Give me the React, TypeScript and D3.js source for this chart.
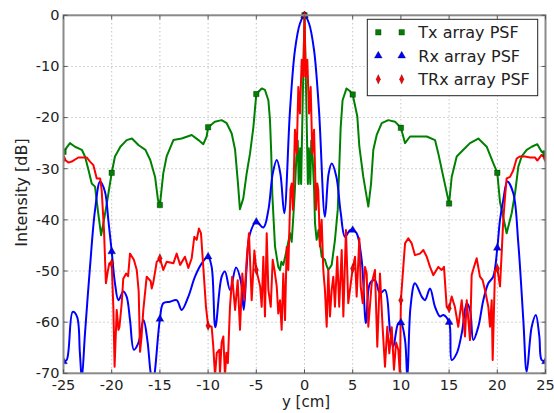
import * as d3 from "d3";

const W = 554;
const H = 413;
const M = { left: 63.5, right: 545.5, top: 15.3, bottom: 373.3 };

const xTicks = [-25, -20, -15, -10, -5, 0, 5, 10, 15, 20, 25];
const yTicks = [0, -10, -20, -30, -40, -50, -60, -70];

// [y (cm), intensity (dB)]
const txPsf: [number, number][] = [
  [-25, -26.7], [-24.33, -25], [-23.8, -25.7], [-23.1, -26.3], [-22.77, -27.6],
  [-22.4, -30.3], [-22.07, -32.9], [-21.73, -33.5], [-21.4, -38.7], [-21.1, -43],
  [-20.8, -40], [-20.5, -36.7], [-20, -30.8], [-19.66, -27.6], [-19.1, -25.7],
  [-18.45, -24.4], [-17.9, -24.1], [-17.2, -25.4], [-16.5, -26.3], [-16, -28.3],
  [-15.5, -31.6], [-15.2, -36.1], [-15, -37.1], [-14.65, -30.9], [-14.3, -27.6],
  [-13.6, -24.4], [-12.74, -24.1], [-11.7, -23.4], [-11, -24.4], [-10.5, -25.2],
  [-10.15, -23.7], [-10, -21.9], [-9.3, -20.8], [-8.6, -20.5], [-8.07, -21.1],
  [-7.55, -23.1], [-7.2, -26.3], [-6.9, -32.9], [-6.7, -37.9], [-6.35, -35.8],
  [-6, -30.9], [-5.65, -27], [-5.3, -21.8], [-5, -15.4], [-4.44, -14.3],
  [-4.1, -14.6], [-3.75, -16.6], [-3.58, -20.5], [-3.45, -27], [-3.34, -35],
  [-3.06, -45.2], [-2.72, -49.2], [-2.54, -49.8], [-2.4, -48.2], [-2.2, -48.8],
  [-1.85, -45.9], [-1.5, -42.6], [-1.33, -44.3], [-1.16, -39.4], [-1, -34.2],
  [-0.85, -28], [-0.7, -24.5], [-0.6, -33], [-0.45, -26], [-0.35, -33],
  [-0.2, -18], [0, 0], [0.2, -18], [0.35, -33], [0.45, -26], [0.6, -33],
  [0.7, -24.5], [0.85, -28], [1, -34.2], [1.09, -40.7], [1.26, -43.9],
  [1.45, -42], [1.78, -47.2], [2.12, -47.8], [2.3, -49], [2.47, -49.8],
  [2.82, -48.8], [3.16, -43.9], [3.45, -38], [3.6, -30], [3.75, -22],
  [3.95, -16.6], [4.36, -14.3], [4.7, -14.8], [5, -15.5], [5.48, -19.8],
  [5.69, -25.7], [6.1, -31.6], [6.62, -37.4], [6.9, -33], [7.14, -26.3],
  [7.49, -23.4], [8.01, -21.1], [8.69, -20.5], [9.39, -20.8], [10, -22],
  [10.43, -25], [10.95, -23.7], [11.64, -23.7], [12.68, -23.7], [13.54, -24.4],
  [13.88, -27], [14.4, -31.6], [15, -36.8], [15.27, -31.6], [15.79, -27.6],
  [16.48, -26.3], [17.17, -25], [18.03, -24.1], [18.9, -25.7], [19.58, -28.9],
  [20, -30.8], [20.28, -36.5], [20.97, -42.6], [21.49, -38.7], [21.84, -34.8],
  [22.18, -29.6], [22.53, -27.6], [23.05, -26.3], [23.57, -25.7], [24.15, -25.2],
  [24.6, -26.7], [25, -27],
];

const rxPsf: [number, number][] = [
  [-25, -67.7], [-24.67, -67.4], [-24.05, -58], [-23.6, -58.9], [-23.3, -66],
  [-23.1, -71], [-22.77, -62.2], [-22.25, -49.2], [-21.73, -38.1], [-21.2, -32.5],
  [-20.7, -34.5], [-20.35, -40], [-20, -46.2], [-19.66, -52.4], [-19.3, -55.7],
  [-18.8, -54], [-18.45, -55], [-18.1, -59.6], [-17.7, -65.4], [-17.24, -64.1],
  [-16.7, -59.6], [-16.3, -63.5], [-15.95, -70], [-15.7, -72], [-15.5, -69.3],
  [-15, -59.4], [-14.65, -56.3], [-13.95, -56], [-13.26, -55.7], [-12.74, -57.6],
  [-12.05, -55], [-11.36, -51.1], [-10.66, -48.5], [-10, -47.2], [-9.63, -49.2],
  [-9.25, -61], [-8.59, -51.1], [-8.25, -50.1], [-7.73, -53.7], [-7.1, -49.3],
  [-6.6, -52], [-6.3, -57.6], [-6, -49.2], [-5.7, -43], [-5, -40.4],
  [-4.27, -41.5], [-3.75, -38.1], [-3.3, -31], [-2.88, -28.3], [-2.5, -31],
  [-2.1, -38.7], [-1.5, -18.5], [-0.99, -6.8], [-0.47, -1.6], [0, 0],
  [0.47, -1.6], [0.99, -6.8], [1.5, -18.5], [2.12, -39.4], [2.5, -31],
  [2.82, -29], [3.3, -31.5], [3.75, -38.5], [4.2, -43.3], [4.72, -42],
  [5, -42], [5.41, -42.6], [5.93, -47.8], [6.38, -60.2], [6.8, -52.4],
  [7.31, -51.8], [7.83, -54.4], [8.35, -53.7], [8.87, -61.5], [9.21, -64.8],
  [9.73, -60.2], [10, -60.1], [10.43, -63.5], [10.67, -71], [11, -57],
  [11.46, -52.4], [12.16, -55], [12.5, -55.7], [13.02, -53.4], [13.54, -57],
  [14.06, -58.9], [14.4, -58.6], [15, -60], [15.27, -67.4], [15.79, -66.1],
  [16.31, -62.2], [16.83, -56.3], [17.17, -57.6], [17.51, -63.5], [18.03, -60.9],
  [18.55, -55.7], [19.07, -52.4], [19.58, -51.1], [20, -45.5], [20.28, -40],
  [20.62, -36.1], [21.04, -32.5], [21.66, -34.8], [22.18, -44.6], [22.7, -59.6],
  [23.05, -69.7], [23.57, -60.9], [24, -58.6], [24.36, -62.8], [24.6, -67.4],
  [25, -67.7],
];

const trxPsf: [number, number][] = [
  [-25, -28], [-24.5, -28.8], [-24.15, -28.6], [-23.46, -27.8], [-22.6, -27.8],
  [-22.25, -28.6], [-21.9, -29.3], [-21.55, -31.9], [-21.2, -31.9], [-21.04, -34.2],
  [-20.8, -42], [-20.6, -52.4], [-20.4, -50], [-20.25, -48.5], [-20, -48.5],
  [-19.83, -57], [-19.7, -68.7], [-19.48, -57.6], [-19.3, -61.5], [-19.2, -61],
  [-18.96, -56.3], [-18.8, -51.5], [-18.5, -50.5], [-18.3, -51], [-18.1, -46.6],
  [-17.7, -47.8], [-17.4, -49.8], [-17.2, -54], [-17.06, -65.8], [-16.9, -62.8],
  [-16.72, -57.6], [-16.37, -51.1], [-15.95, -52], [-15.85, -53.4], [-15.7, -52.4],
  [-15.33, -48.2], [-15, -47.5], [-14.65, -49.8], [-14.3, -48.2], [-13.6, -48.5],
  [-13.26, -46.6], [-12.9, -48.8], [-12.4, -47.2], [-12.05, -49.4], [-11.7, -47.5],
  [-11.43, -43.3], [-11.18, -43.9], [-10.95, -41.7], [-10.74, -42.6], [-10.5, -49.2],
  [-10.22, -57], [-10, -60.7], [-9.63, -60.9], [-9.46, -64.8], [-9.28, -70.5],
  [-9.1, -66], [-8.84, -65.4], [-8.77, -70], [-8.6, -64], [-8.42, -62.8],
  [-8.25, -70.5], [-8.1, -66], [-7.95, -68], [-7.73, -57], [-7.5, -51.1],
  [-7.2, -57.6], [-6.93, -51.8], [-6.69, -61.5], [-6.45, -50.5], [-6.24, -55.7],
  [-6, -47.8], [-5.76, -42.6], [-5.48, -55.7], [-5.2, -46], [-5, -49.8],
  [-4.6, -53], [-4.44, -57], [-4.27, -47.2], [-4.1, -58.9], [-3.92, -42.6],
  [-3.75, -53.7], [-3.5, -57], [-3.3, -47.8], [-3.1, -50], [-2.88, -53],
  [-2.72, -58.3], [-2.54, -55.7], [-2.37, -61.5], [-2.2, -50.5], [-2.02, -59.6],
  [-1.85, -45.3], [-1.68, -49.8], [-1.58, -42.6], [-1.45, -34], [-1.33, -32.9],
  [-1.2, -38], [-0.99, -22.4], [-0.81, -27], [-0.64, -14], [-0.47, -19.2],
  [-0.29, -8.7], [-0.12, -12], [0, 0], [0.12, -12], [0.29, -8.7],
  [0.47, -19.2], [0.64, -14], [0.81, -27], [0.99, -22.4], [1.2, -38],
  [1.33, -32.9], [1.43, -34.2], [1.6, -45.2], [1.78, -40], [1.95, -49.8],
  [2.12, -53.7], [2.3, -60.9], [2.47, -49.8], [2.64, -58.9], [2.82, -53.7],
  [2.99, -51.1], [3.16, -57], [3.4, -47.2], [3.6, -57], [3.86, -45.9],
  [4.03, -58.9], [4.3, -42], [4.54, -56.3], [5, -49.5], [5.24, -47.2],
  [5.41, -55], [5.69, -43.6], [5.83, -53], [6.04, -56.3], [6.28, -49.2],
  [6.45, -50.5], [6.62, -60.9], [6.97, -52.4], [7.31, -49.8], [7.55, -64.8],
  [7.83, -50.5], [8.1, -60.9], [8.35, -68.7], [8.59, -60.9], [8.8, -66.1],
  [9.05, -61], [9.28, -69.3], [9.5, -64], [9.73, -65.4], [9.9, -70.5],
  [10, -55.7], [10.25, -49.2], [10.43, -44.6], [10.77, -43.6], [11.12, -44.6],
  [11.46, -46.9], [11.98, -46.6], [12.33, -45.9], [12.68, -47.2], [13.02, -49.2],
  [13.36, -50.8], [13.88, -49.2], [14.23, -49.8], [14.47, -49.2], [14.75, -57],
  [15, -57.3], [15.27, -55], [15.6, -57], [15.95, -60.9], [16.31, -55.7],
  [16.65, -62.8], [16.83, -55.7], [17.17, -63.5], [17.34, -50.8], [17.58, -49.2],
  [17.86, -47.5], [18.2, -51.1], [18.48, -51.8], [18.72, -53.7], [19.07, -57],
  [19.24, -60.9], [19.42, -55.7], [19.52, -67.4], [19.76, -49.8], [20, -49.5],
  [20.28, -53], [20.45, -46.6], [20.62, -40], [20.8, -35.5], [20.97, -31.9],
  [21.32, -31.6], [21.66, -30.3], [22.01, -28], [22.36, -27.6], [22.87, -27.6],
  [23.39, -27.8], [23.91, -27.8], [24.15, -28.4], [24.6, -27.3], [25, -28],
];

const series = [
  { name: "Tx array PSF", data: txPsf, color: "#008000", marker: "square", smooth: false },
  { name: "Rx array PSF", data: rxPsf, color: "#0000ff", marker: "triangle", smooth: true },
  { name: "TRx array PSF", data: trxPsf, color: "#ff0000", marker: "diamond", smooth: false },
];

const symbols: Record<string, d3.SymbolType> = {
  square: d3.symbolSquare,
  triangle: d3.symbolTriangle,
  diamond: d3.symbolDiamond,
};

const Marker = ({ type, x, y, color }: { type: string; x: number; y: number; color: string }) => {
  const path = d3.symbol(symbols[type], type === "square" ? 30 : 26)();
  const sy = type === "diamond" ? 0.8 : 1;
  return (
    <path
      d={path || ""}
      transform={`translate(${x},${y}) scale(${sy},1)`}
      fill={color}
      stroke="#000"
      strokeWidth={0.5}
      strokeOpacity={0.6}
    />
  );
};

export default function App() {
  const x = d3.scaleLinear().domain([-25, 25]).range([M.left, M.right]);
  const y = d3.scaleLinear().domain([-70, 0]).range([M.bottom, M.top]);

  const font = "DejaVu Sans, sans-serif";

  return (
    <svg
      width={W}
      height={H}
      style={{ position: "absolute", left: 0, top: 0, background: "#fff" }}
      fontFamily={font}
    >
      <defs>
        <clipPath id="plot">
          <rect x={M.left} y={M.top - 4} width={M.right - M.left} height={M.bottom - M.top + 4} />
        </clipPath>
      </defs>

      {/* grid */}
      {xTicks.map((t) => (
        <line key={"gx" + t} x1={x(t)} x2={x(t)} y1={M.top} y2={M.bottom}
          stroke="#a8a8a8" strokeWidth={1} strokeDasharray="1,3" />
      ))}
      {yTicks.map((t) => (
        <line key={"gy" + t} x1={M.left} x2={M.right} y1={y(t)} y2={y(t)}
          stroke="#a8a8a8" strokeWidth={1} strokeDasharray="1,3" />
      ))}

      {/* lines */}
      <g clipPath="url(#plot)">
        {series.map((s) => {
          const line = d3
            .line<[number, number]>()
            .x((d) => x(d[0]))
            .y((d) => y(d[1]))
            .curve(s.smooth ? d3.curveCatmullRom : d3.curveLinear);
          return (
            <path key={s.name} d={line(s.data) || ""} fill="none" stroke={s.color}
              strokeWidth={2} strokeLinejoin="round" />
          );
        })}
        {series.map((s) =>
          s.data
            .filter((d) => d[0] % 5 === 0)
            .map((d) => (
              <Marker key={s.name + d[0]} type={s.marker} x={x(d[0])} y={y(d[1])} color={s.color} />
            ))
        )}
      </g>

      {/* frame */}
      <rect x={M.left} y={M.top} width={M.right - M.left} height={M.bottom - M.top}
        fill="none" stroke="#8a8a8a" strokeWidth={2} />

      {/* ticks */}
      {xTicks.map((t) => (
        <g key={"tx" + t}>
          <line x1={x(t)} x2={x(t)} y1={M.bottom} y2={M.bottom - 4} stroke="#555" />
          <line x1={x(t)} x2={x(t)} y1={M.top} y2={M.top + 4} stroke="#555" />
          <text x={x(t)} y={389.5} textAnchor="middle" fontSize={14.5} fill="#222">{t}</text>
        </g>
      ))}
      {yTicks.map((t) => (
        <g key={"ty" + t}>
          <line x1={M.left} x2={M.left + 4} y1={y(t)} y2={y(t)} stroke="#555" />
          <line x1={M.right} x2={M.right - 4} y1={y(t)} y2={y(t)} stroke="#555" />
          <text x={59.5} y={y(t)} dy="0.33em" textAnchor="end" fontSize={14.5} fill="#222">{t}</text>
        </g>
      ))}

      <text x={306} y={406.5} textAnchor="middle" fontSize={15} fill="#222">y [cm]</text>
      <text transform="translate(27,192.5) rotate(-90)" textAnchor="middle" fontSize={16} fill="#222">
        Intensity [dB]
      </text>

      {/* legend */}
      <g>
        <rect x={367.3} y={19.3} width={170.4} height={76.4} fill="#fff" stroke="#222" strokeWidth={1} />
        {series.map((s, i) => {
          const ry = 32.3 + i * 23.5;
          return (
            <g key={"lg" + s.name}>
              <Marker type={s.marker} x={378.3} y={ry} color={s.color} />
              <Marker type={s.marker} x={401.7} y={ry} color={s.color} />
              <text x={418.3} y={ry} dy="0.36em" fontSize={16} fill="#222">{s.name}</text>
            </g>
          );
        })}
      </g>
    </svg>
  );
}
